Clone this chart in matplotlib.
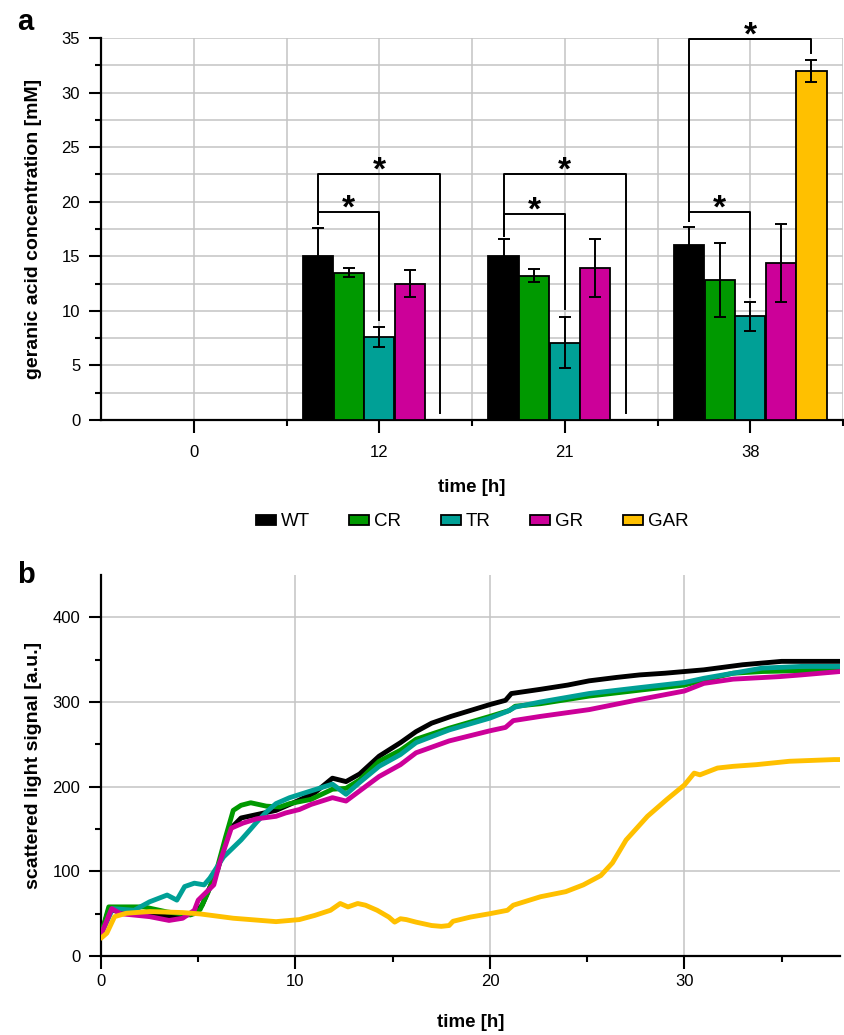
import numpy as np
import matplotlib
matplotlib.use("Agg")
import matplotlib.pyplot as plt
from matplotlib.ticker import MultipleLocator, FixedLocator

plt.rcParams['font.family'] = ['Liberation Sans', 'DejaVu Sans']

# ---------- data: panel a (geranic acid, mM) ----------
time_labels = ["0", "12", "21", "38"]
strains = ["WT", "CR", "TR", "GR", "GAR"]
colors = ["#000000", "#009900", "#00a096", "#cc0099", "#ffc000"]

wt = [0, 15.0, 15.0, 16.0]
wt_err = [0, 2.6, 1.55, 1.65]
cr = [0, 13.5, 13.2, 12.8]
cr_err = [0, 0.4, 0.6, 3.4]
tr = [0, 7.6, 7.1, 9.5]
tr_err = [0, 0.9, 2.3, 1.35]
gr = [0, 12.5, 13.9, 14.4]
gr_err = [0, 1.2, 2.65, 3.55]
gar = [0, 0, 0, 32.0]
gar_err = [0, 0, 0, 1.0]

# significance brackets: (group, compared strain index, bracket height, left leg end, right leg end)
brackets = [
    (1, 2, 19.05, 18.0, 9.2), (1, 4, 22.5, 18.0, 0.6),
    (2, 2, 18.9, 16.9, 10.2), (2, 4, 22.5, 16.9, 0.6),
    (3, 2, 19.1, 18.2, 11.3), (3, 4, 34.9, 18.2, 33.6),
]

# ---------- data: panel b (scattered light) ----------
t_wt = [0, 0.4, 1, 2, 3, 4, 4.8, 5.2, 5.5, 6, 6.6, 7.2, 8, 9, 10, 11, 11.9, 12.6, 13.3, 14.3,
        15.4, 16.2, 17, 18, 19, 20, 20.8, 21.1, 22.6, 24, 25.1, 26.5, 27.7, 29, 30, 31, 32, 33,
        34, 35, 36, 37, 38]
v_wt = [25, 55, 52, 49, 47, 47, 50, 60, 76, 102, 149, 163, 167, 172, 182, 193, 210, 206, 215, 236,
        252, 265, 275, 283, 290, 297, 302, 310, 315, 320, 325, 329, 332, 334, 336, 338, 341, 344,
        346, 348, 348, 348, 348]

t_cr = [0, 0.4, 1, 2.2, 3.4, 4.6, 5.1, 5.5, 6, 6.4, 6.8, 7.2, 7.7, 8.5, 9.2, 9.7, 10.8, 11.9, 12.6,
        13.3, 14.3, 15.4, 16.2, 17.9, 20, 21, 21.3, 22.6, 25.1, 27.7, 30, 31, 32.5, 34, 36, 38]
v_cr = [25, 58, 58, 58, 52, 48.5, 55, 75, 106, 140, 172, 178, 181, 177, 176, 180, 185, 197, 198,
        208, 230, 243, 256, 269, 283, 290, 295, 298, 307, 314, 320, 326, 334, 336, 337, 338]

t_tr = [0, 0.6, 1.7, 2.5, 3.4, 3.9, 4.3, 4.8, 5.3, 5.6, 6.3, 7.2, 7.7, 8, 8.5, 9, 9.7, 10.8, 11.9,
        12.6, 13.3, 14.3, 15.4, 16.2, 17.9, 20, 20.9, 21.3, 22.6, 25.1, 27.7, 30, 31, 32.5, 34, 35,
        36, 38]
v_tr = [25, 56, 54, 64, 72, 66, 82, 86, 84, 92, 117, 137, 150, 158, 170, 180, 187, 195, 203,
        191, 205, 224, 238, 252, 267, 281, 289, 294, 300, 310, 317, 323, 328, 334, 340, 341,
        342, 342]

t_gr = [0, 0.55, 1, 2.5, 3.5, 4.2, 4.8, 5.0, 5.8, 6.1, 6.7, 7.3, 8, 9, 9.5, 10.2, 10.8, 11.9, 12.6,
        13.3, 14.3, 15.4, 16.2, 17.9, 20, 20.8, 21.2, 22.6, 25.1, 27.7, 30, 31, 32.5, 34.9, 36, 38]
v_gr = [25, 56, 50, 46.5, 42, 44.6, 54, 66, 84, 110, 151, 157, 162, 165, 169, 173, 179, 187, 183,
        195, 212, 226, 240, 254, 266, 270, 278, 283, 291, 303, 313, 322, 327, 330, 332, 336]

t_gar = [0, 0.3, 0.7, 1.3, 2.5, 4.2, 5.1, 6.8, 9, 10.2, 11, 11.8, 12.3, 12.7, 13.2, 13.6, 14.2,
         14.8, 15.1, 15.4, 15.7, 16.2, 17, 17.5, 17.9, 18.1, 19, 20, 20.9, 21.2, 22.6, 23.9, 24.8,
         25.7, 26.3, 27, 28.1, 29.1, 30, 30.5, 30.8, 31.7, 32.5, 33.7, 35.4, 37.7, 38]
v_gar = [21, 27, 46.5, 50.5, 52.5, 51.3, 49.7, 44.6, 40.6, 43, 48, 54, 62, 58, 62, 60, 54,
         46, 40, 44, 43, 40, 36, 35, 36, 41, 46, 50, 54, 60, 70, 76, 84,
         95, 110, 137, 165, 185, 202, 216, 214, 222, 224, 226, 230, 232, 232]

grid_col = "#c4c4c4"
W, H = 844, 1035
fig = plt.figure(figsize=(W / 100, H / 100), dpi=100)
ax1 = fig.add_axes([101 / W, 1 - 420 / H, 742 / W, 382 / H])
ax2 = fig.add_axes([101 / W, 1 - 956 / H, 739 / W, 381 / H])

########## panel a ##############
x = np.arange(len(time_labels))
step = 0.165
bar_w = 0.163
means = [wt, cr, tr, gr, gar]
errs = [wt_err, cr_err, tr_err, gr_err, gar_err]
for i in range(len(strains)):
    pos = x + (i - 2) * step
    vals = np.array(means[i])
    e = np.array(errs[i])
    ax1.bar(pos, vals, bar_w, color=colors[i], edgecolor="black", linewidth=1.3,
            label=strains[i], zorder=3)
    m = e > 0
    ax1.errorbar(pos[m], vals[m], yerr=e[m], fmt="none", ecolor="black", elinewidth=1.4,
                 capsize=4, capthick=1.4, zorder=4)

for g, k, yb, yl, yr in brackets:
    xl = g - 2 * step
    xr = g + (k - 2) * step
    ax1.plot([xl, xl, xr, xr], [yl, yb, yb, yr], color="black", lw=1.4, zorder=5, clip_on=False)
    ax1.annotate("*", xy=((xl + xr) / 2, yb), xytext=(0, -4), textcoords="offset points",
                 ha="center", va="baseline", fontsize=24, fontweight="bold", annotation_clip=False)

ax1.set_xlim(-0.5, 3.5)
ax1.set_ylim(0, 35)
ax1.xaxis.set_major_locator(FixedLocator(x))
ax1.set_xticklabels(time_labels)
ax1.xaxis.set_minor_locator(FixedLocator([0.5, 1.5, 2.5, 3.5]))
ax1.yaxis.set_major_locator(MultipleLocator(5))
ax1.yaxis.set_minor_locator(MultipleLocator(2.5))
ax1.grid(which="both", color=grid_col, lw=1.1, zorder=0)
ax1.set_axisbelow(True)
ax1.set_xlabel("time [h]", fontsize=13.5, fontweight="bold")
ax1.set_ylabel("geranic acid concentration [mM]", fontsize=14, fontweight="bold")
ax1.xaxis.set_label_coords(0.5, -0.155)
ax1.yaxis.set_label_coords(-0.0795, 0.5)
ax1.tick_params(axis="x", which="major", pad=9)

ax1.legend(loc="center", bbox_to_anchor=(0.5, -0.267), ncol=5, frameon=False, fontsize=13.5,
           handlelength=1.07, handleheight=0.48, handletextpad=0.27, columnspacing=2.1)

########## panel b ##############
series = [(t_wt, v_wt), (t_cr, v_cr), (t_tr, v_tr), (t_gr, v_gr), (t_gar, v_gar)]
for i, (tt, vv) in enumerate(series):
    ax2.plot(tt, vv, color=colors[i], lw=3.5, solid_joinstyle="round", solid_capstyle="round",
             zorder=3)
ax2.set_xlim(0, 38)
ax2.set_ylim(0, 450)
ax2.xaxis.set_major_locator(MultipleLocator(10))
ax2.xaxis.set_minor_locator(MultipleLocator(5))
ax2.yaxis.set_major_locator(FixedLocator([0, 100, 200, 300, 400]))
ax2.yaxis.set_minor_locator(FixedLocator([50, 150, 250, 350]))
ax2.grid(which="major", color=grid_col, lw=1.1, zorder=0)
ax2.set_axisbelow(True)
ax2.set_xlabel("time [h]", fontsize=13.5, fontweight="bold")
ax2.set_ylabel("scattered light signal [a.u.]", fontsize=14, fontweight="bold")
ax2.xaxis.set_label_coords(0.5, -0.152)
ax2.yaxis.set_label_coords(-0.0798, 0.5)
ax2.tick_params(axis="x", which="major", pad=4)

for ax in (ax1, ax2):
    ax.spines["top"].set_visible(False)
    ax.spines["right"].set_visible(False)
    ax.spines["left"].set_linewidth(1.6)
    ax.spines["bottom"].set_linewidth(1.6)
    ax.tick_params(which="major", direction="out", length=9, width=1.5, labelsize=12)
    ax.tick_params(which="minor", direction="out", length=4.5, width=1.5)
    ax.tick_params(axis="y", which="major", pad=6)

fig.text(17 / W, 1 - 30 / H, "a", fontsize=21, fontweight="bold", ha="left", va="baseline")
fig.text(17 / W, 1 - 583 / H, "b", fontsize=21, fontweight="bold", ha="left", va="baseline")

fig.savefig("out.png", dpi=100)
